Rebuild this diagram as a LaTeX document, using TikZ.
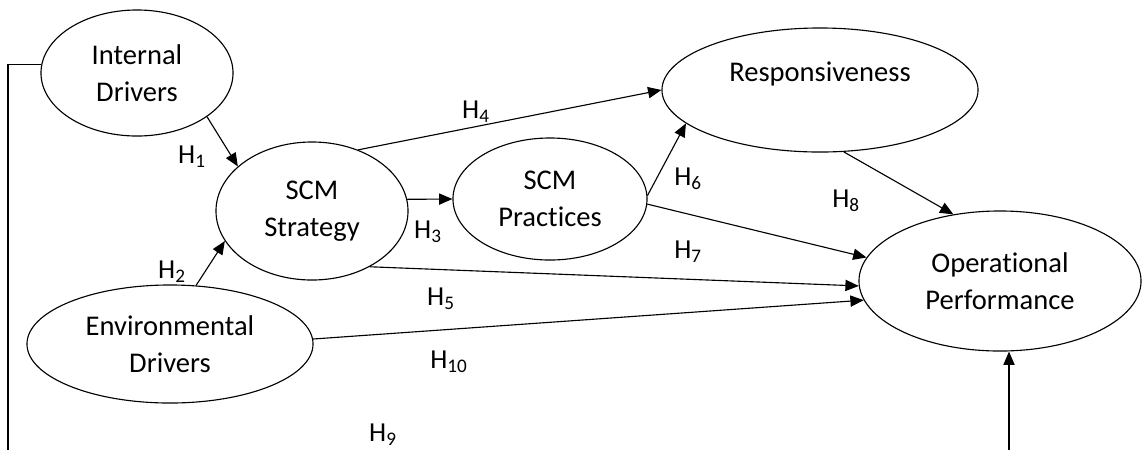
\documentclass[tikz,border=0pt]{standalone}
\usepackage{fontspec}
\setmainfont[Ligatures=NoCommon]{Carlito}
\usepackage{tikz}
\usetikzlibrary{shapes.geometric,arrows.meta}

\begin{document}
\begin{tikzpicture}[x=0.025cm,y=-0.025cm,
  construct/.style={draw,ellipse,line width=0.8pt,align=center,inner sep=0pt,
    font=\fontsize{20.3}{26.2}\selectfont},
  link/.style={line width=0.8pt,-{Triangle[length=9.5pt,width=8pt]}},
  hyp/.style={font=\fontsize{19.5}{22}\selectfont}]

\useasboundingbox (0,0) rectangle (1144,450);

% ============================
% CONSTRUCTS
% ============================

\node[construct,minimum width=4.8cm,minimum height=3.15cm] (int) at (137,73) {Internal\\Drivers};
\node[construct,minimum width=7.15cm,minimum height=2.95cm] (env) at (170,344) {Environmental\\Drivers};
\node[construct,minimum width=4.8cm,minimum height=3.45cm] (strat) at (312,211) {SCM\\Strategy};
\node[construct,minimum width=4.85cm,minimum height=3.05cm] (prac) at (550,199) {SCM\\Practices};
\node[construct,minimum width=7.9cm,minimum height=3.1cm] (resp) at (820,90) {Responsiveness\\\mbox{}};
\node[construct,minimum width=7.05cm,minimum height=3.5cm] (op) at (1000,281) {Operational\\Performance};

% ============================
% HYPOTHESES
% ============================

% Drivers to strategy
\draw[link] (int.-32) -- (strat.149);
\node[hyp] (h1) at (192,157) {H\textsubscript{1}};
\draw[link] (env.66) -- (strat.199);
\node[hyp] (h2) at (172,272) {H\textsubscript{2}};

% Strategy paths
\draw[link] (strat.7) -- (prac.180);
\node[hyp] (h3) at (428,232) {H\textsubscript{3}};
\draw[link] (strat.53) -- (resp.180);
\node[hyp] (h4) at (476,112) {H\textsubscript{4}};
\draw[link] (strat.-44) -- (op.182);
\node[hyp] (h5) at (441,299) {H\textsubscript{5}};

% Practices paths
\draw[link] (prac.2) -- (resp.194);
\node[hyp] (h6) at (688,179) {H\textsubscript{6}};
\draw[link] (prac.-3) -- (op.170);
\node[hyp] (h7) at (688,252) {H\textsubscript{7}};

% Responsiveness to performance
\draw[link] (resp.-69) -- (op.125);
\node[hyp] (h8) at (846,201) {H\textsubscript{8}};

% Environmental drivers to performance
\draw[link] (env.2) -- (op.188);
\node[hyp] (h10) at (449,362) {H\textsubscript{10}};

% Internal drivers to performance (runs below the frame)
\coordinate (fbl) at (8,450);
\coordinate (fbr) at (1009,450);
\draw[line width=0.8pt] (int.175) -| (fbl);
\draw[link] (fbr) -- (fbr |- op.south);
\node[hyp] (h9) at (383,435) {H\textsubscript{9}};

\end{tikzpicture}
\end{document}
